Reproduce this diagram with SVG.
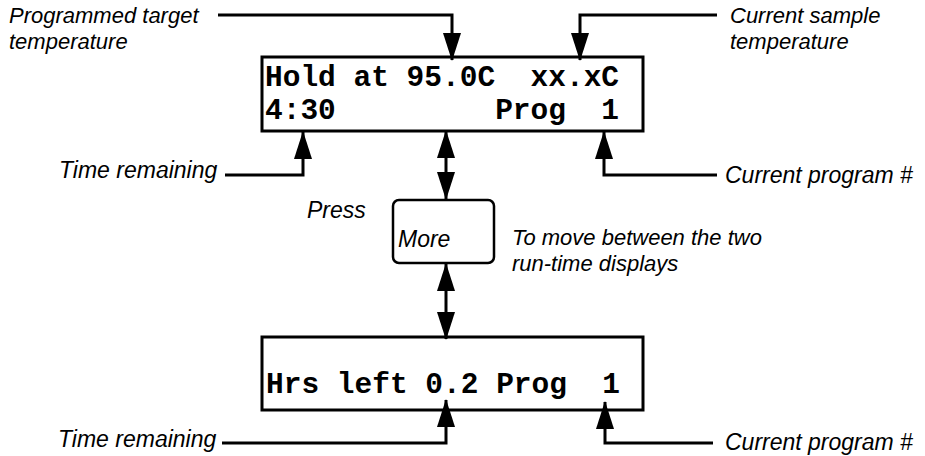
<svg xmlns="http://www.w3.org/2000/svg" width="925" height="456" viewBox="0 0 925 456">
<style>
.lbl{font-family:"Liberation Sans",Arial,sans-serif;font-style:italic;font-size:23px;fill:#000}
.two{font-size:22px}
.lcd{font-family:"Liberation Mono","Courier New",monospace;font-weight:bold;font-size:29.5px;fill:#000;white-space:pre}
.box{fill:#fff;stroke:#000;stroke-width:3}
.con{fill:none;stroke:#000;stroke-width:3}
</style>
<defs>
<marker id="ah" markerUnits="userSpaceOnUse" markerWidth="28" markerHeight="18" refX="27" refY="9" orient="auto-start-reverse" viewBox="0 0 28 18">
<path d="M0,0 L28,9 L0,18 z" fill="#000"/>
</marker>
</defs>
<rect width="925" height="456" fill="#fff"/>
<g id="top-display">
<rect class="box" x="262" y="57" width="381" height="74"/>
<text class="lcd" x="265" y="86" xml:space="preserve">Hold at 95.0C  xx.xC</text>
<text class="lcd" x="265" y="119" xml:space="preserve">4:30         Prog  1</text>
</g>
<g id="more-button">
<rect class="box" x="393" y="200" width="101" height="63" rx="6" ry="6" style="stroke-width:2.5"/>
<text class="lbl" x="398" y="247">More</text>
</g>
<g id="bottom-display">
<rect class="box" x="262" y="337" width="381" height="73"/>
<text class="lcd" x="266" y="393" xml:space="preserve">Hrs left 0.2 Prog  1</text>
</g>
<g id="labels">
<g id="lbl-programmed"><text class="lbl two" x="9" y="23">Programmed target</text><text class="lbl two" x="9" y="49">temperature</text></g>
<g id="lbl-sample"><text class="lbl two" x="730" y="23">Current sample</text><text class="lbl two" x="730" y="49">temperature</text></g>
<g id="lbl-time-top"><text class="lbl" x="59" y="178">Time remaining</text></g>
<g id="lbl-prog-top"><text class="lbl" x="725" y="183">Current program #</text></g>
<g id="lbl-press"><text class="lbl" x="307" y="218">Press</text></g>
<g id="lbl-move"><text class="lbl two" x="512" y="245">To move between the two</text><text class="lbl two" x="512" y="271">run-time displays</text></g>
<g id="lbl-time-bottom"><text class="lbl" x="58" y="447">Time remaining</text></g>
<g id="lbl-prog-bottom"><text class="lbl" x="725" y="450">Current program #</text></g>
</g>
<g id="connectors">
<path class="con" d="M218,15 H452 V60" marker-end="url(#ah)"/>
<path class="con" d="M717,15 H580 V60" marker-end="url(#ah)"/>
<path class="con" d="M225,175 H303 V132" marker-end="url(#ah)"/>
<path class="con" d="M717,175 H604 V132" marker-end="url(#ah)"/>
<path class="con" d="M446,131 V199" marker-start="url(#ah)" marker-end="url(#ah)"/>
<path class="con" d="M446,264 V339" marker-start="url(#ah)" marker-end="url(#ah)"/>
<path class="con" d="M222,443 H446 V400" marker-end="url(#ah)"/>
<path class="con" d="M713,443 H605 V402" marker-end="url(#ah)"/>
</g>
</svg>
